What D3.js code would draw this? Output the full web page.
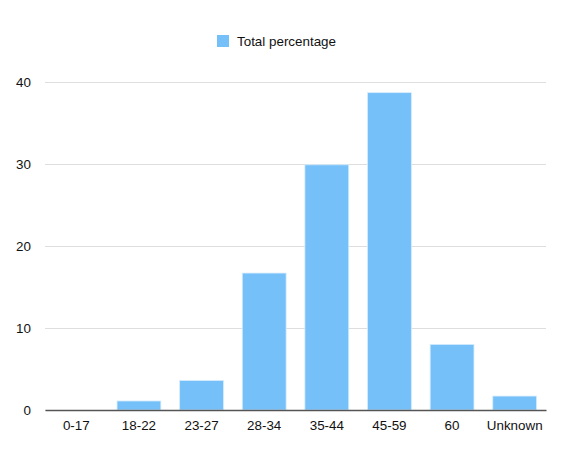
<!DOCTYPE html>
<html>
<head>
<meta charset="utf-8">
<script src="https://cdn.jsdelivr.net/npm/d3@7"></script>
<style>
  body { margin: 0; background: #fff; }
  text { font-family: "Liberation Sans", Arial, sans-serif; }
</style>
</head>
<body>
<div id="chart"></div>
<script>
const categories = ["0-17", "18-22", "23-27", "28-34", "35-44", "45-59", "60", "Unknown"]
const values = [0, 1.1, 3.6, 16.7, 29.9, 38.7, 8.0, 1.7]
const yTicks = [0, 10, 20, 30, 40]
const seriesName = "Total percentage"

const width = 583, height = 456
const margin = {top: 82, bottom: 46, left: 45, right: 37}
const barColor = "#75c0f9"
const fontSize = 13.4

const svg = d3.select("#chart")
  .append("svg")
  .attr("width", width)
  .attr("height", height)

const x = d3.scaleBand()
  .domain(categories)
  .range([margin.left, width - margin.right])
  .paddingInner(0.3)
  .paddingOuter(0.15)

const y = d3.scaleLinear()
  .domain([0, 40])
  .range([height - margin.bottom, margin.top])

// gridlines + y labels
svg.append("g")
  .attr("transform", `translate(${margin.left},0)`)
  .call(d3.axisLeft(y).tickValues(yTicks).tickSize(-(width - margin.left - margin.right)).tickPadding(14))
  .call(g => g.select(".domain").remove())
  .call(g => g.selectAll(".tick line").attr("stroke", "#dedede"))
  .call(g => g.selectAll(".tick text").attr("font-size", fontSize).attr("fill", "#111"))

// bars
svg.selectAll("rect.bar")
  .data(values)
  .enter()
  .append("rect")
  .attr("class", "bar")
  .attr("x", (d, i) => x(categories[i]))
  .attr("y", d => y(d))
  .attr("width", x.bandwidth())
  .attr("height", d => y(0) - y(d))
  .attr("fill", barColor)
  .attr("stroke", "#d6ecfd")
  .attr("stroke-width", 0.8)

// x axis (baseline)
svg.append("g")
  .attr("transform", `translate(0,${y(0)})`)
  .call(d3.axisBottom(x).tickSize(0).tickPadding(10))
  .call(g => g.select(".domain").attr("stroke", "#555").attr("stroke-width", 1.5))
  .call(g => g.selectAll(".tick text").attr("font-size", fontSize).attr("fill", "#111"))

// legend
const legend = svg.append("g").attr("transform", "translate(217,35)")
legend.append("rect")
  .attr("width", 12)
  .attr("height", 12)
  .attr("fill", barColor)
legend.append("text")
  .attr("x", 20)
  .attr("y", 11)
  .attr("font-size", fontSize)
  .attr("fill", "#111")
  .text(seriesName)
</script>
</body>
</html>
